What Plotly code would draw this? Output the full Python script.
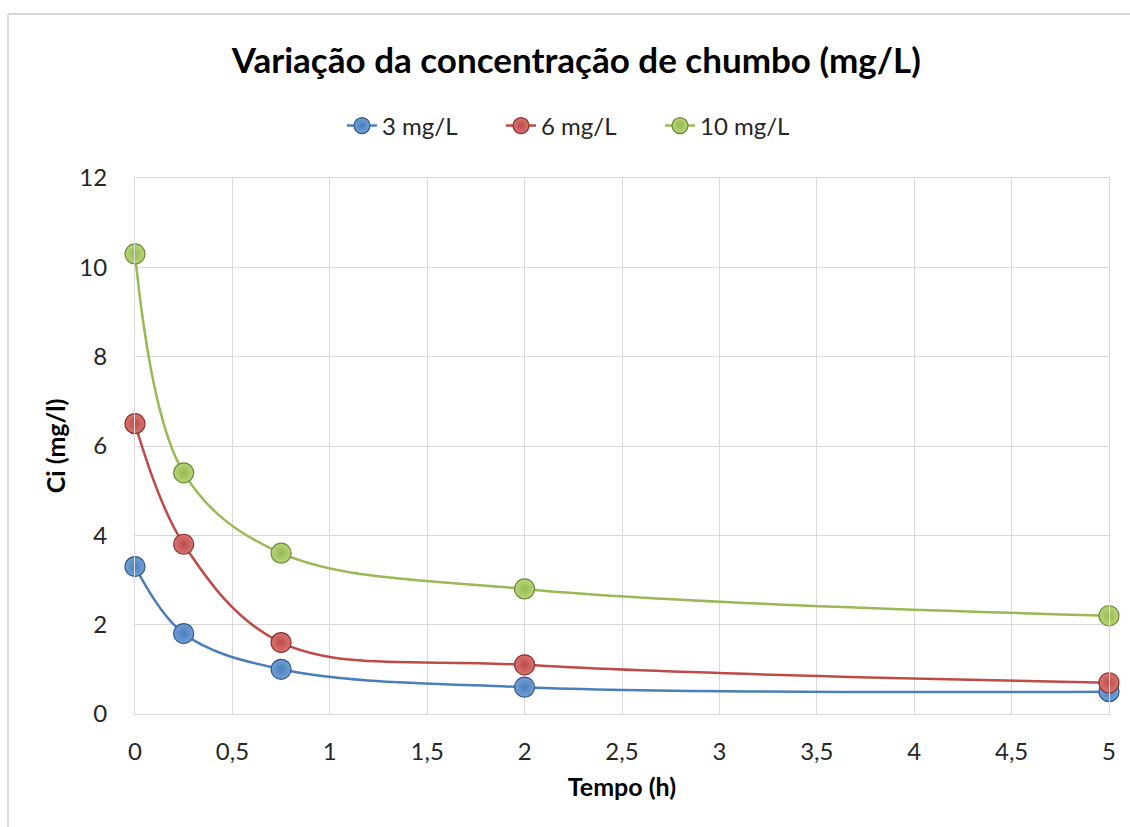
import plotly.graph_objects as go

tempo = [0, 0.25, 0.75, 2, 5]
serie_3 = [3.3, 1.8, 1.0, 0.6, 0.5]
serie_6 = [6.5, 3.8, 1.6, 1.1, 0.7]
serie_10 = [10.3, 5.4, 3.6, 2.8, 2.2]
nomes = ["3 mg/L", "6 mg/L", "10 mg/L"]
cores = ["#4A7EBB", "#BE4B48", "#98B954"]
claros = ["#74A0D6", "#D87572", "#B6D67A"]
bordas = ["#2F5A8F", "#8E2E2C", "#6C8A34"]

FONT = "Lato"

fig = go.Figure()
for ys, nome, cor, claro, borda in zip([serie_3, serie_6, serie_10], nomes, cores, claros, bordas):
    fig.add_trace(go.Scatter(
        x=tempo, y=ys, name=nome, mode="lines+markers",
        line=dict(color=cor, width=2.5, shape="spline", smoothing=1.0),
        marker=dict(size=20, color=claro, line=dict(color=borda, width=1.2),
                    gradient=dict(type="radial", color=cor)),
        cliponaxis=False,
    ))

fig.update_layout(
    width=1130, height=827,
    margin=dict(l=135, r=21, t=178, b=113),
    paper_bgcolor="white", plot_bgcolor="white",
    separators=", ",
    font=dict(family=FONT, size=22, color="#262626"),
    title=dict(text="<b>Variação da concentração de chumbo (mg/L)</b>",
               x=0.51, xanchor="center", y=0.927, yanchor="middle",
               font=dict(family=FONT, size=35, color="#000000")),
    showlegend=True,
    legend=dict(orientation="h", x=(342 - 135) / 974, xanchor="left", y=1.097, yanchor="middle",
                font=dict(family=FONT, size=24, color="#262626"),
                entrywidth=114, entrywidthmode="pixels",
                itemwidth=30, bgcolor="rgba(0,0,0,0)"),
    xaxis=dict(range=[0, 5], dtick=0.5, tick0=0, showgrid=True, gridcolor="#D9D9D9",
               gridwidth=1, zeroline=False, showline=True, linecolor="#D9D9D9", mirror=True,
               ticks="", ticklabelstandoff=16,
               tickfont=dict(family=FONT, size=24, color="#262626"),
               title=dict(text="<b>Tempo (h)</b>", standoff=14,
                          font=dict(family=FONT, size=25, color="#000000"))),
    yaxis=dict(range=[0, 12], dtick=2, showgrid=True, gridcolor="#D9D9D9",
               gridwidth=1, zeroline=False, showline=True, linecolor="#D9D9D9", mirror=True,
               ticks="", ticklabelstandoff=22,
               tickfont=dict(family=FONT, size=24, color="#262626"),
               title=dict(text="<b>Ci (mg/l)</b>", standoff=6,
                          font=dict(family=FONT, size=25, color="#000000"))),
)

# outer chart frame (top and left edges visible in reference)
fig.add_shape(type="line", xref="paper", yref="paper",
              x0=(8 - 135) / 974, x1=(1130 - 135) / 974,
              y0=(714 - 14) / 536, y1=(714 - 14) / 536,
              line=dict(color="#D9D9D9", width=2))
fig.add_shape(type="line", xref="paper", yref="paper",
              x0=(8 - 135) / 974, x1=(8 - 135) / 974,
              y0=(714 - 14) / 536, y1=(714 - 827) / 536,
              line=dict(color="#D9D9D9", width=2))

fig.write_html("out.html")
